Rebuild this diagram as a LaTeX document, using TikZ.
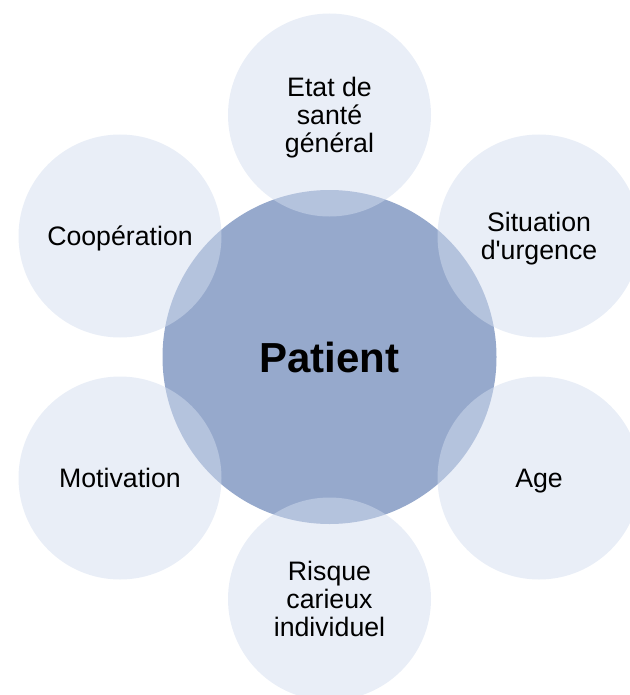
\documentclass[tikz,border=0pt]{standalone}
\usepackage{fontspec}
\setmainfont{Liberation Sans}[Ligatures=TeXOff]
\definecolor{hubblue}{HTML}{96A9CC}
\definecolor{petalblue}{HTML}{D3DDEF}
\begin{document}
\begin{tikzpicture}[x=1pt,y=-1pt,
	hub/.style={circle,fill=hubblue,minimum size=334pt,inner sep=0pt,
		font=\fontsize{42}{46}\selectfont\bfseries},
	petal/.style={circle,fill=petalblue,fill opacity=0.5,
		minimum size=203pt,inner sep=0pt},
	petaltext/.style={align=center,text depth=0pt,
		font=\fontsize{26.7}{27.7}\selectfont}]
	\useasboundingbox (0,0) rectangle (629,695);
	% centre
	\node[hub] (patient) at (329.5,357) {Patient};
	% surrounding factors
	\node[petal] (sante) at (329.5,115) {};
	\node[petal] (urgence) at (539,236) {};
	\node[petal] (age) at (539,478) {};
	\node[petal] (risque) at (329.5,599) {};
	\node[petal] (motivation) at (120,478) {};
	\node[petal] (cooperation) at (120,236) {};
	% labels, centred without their descenders
	\foreach \n/\t in {sante/{Etat de\\santé\\général},urgence/{Situation\\d'urgence},
		age/Age,risque/{Risque\\carieux\\individuel},motivation/Motivation,
		cooperation/Coopération}
		\node[petaltext] (\n-label) at (\n) {\t};
\end{tikzpicture}
\end{document}
